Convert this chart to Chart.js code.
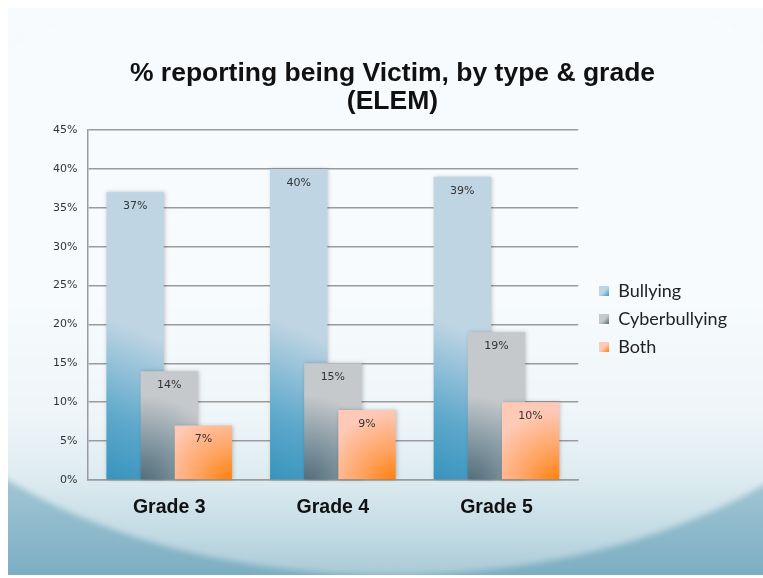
<!DOCTYPE html>
<html>
<head>
<meta charset="utf-8">
<title>% reporting being Victim (ELEM)</title>
<script src="https://cdn.jsdelivr.net/npm/chart.js"></script>
<style>
  html, body { margin: 0; padding: 0; background: #fff; }
</style>
</head>
<body>
<canvas id="victimChart" width="763" height="578"></canvas>
<script>
// values
const grades = ['Grade 3', 'Grade 4', 'Grade 5'];
const bullying = [37, 40, 39];
const cyberbullying = [14, 15, 19];
const both = [7, 9, 10];
const seriesNames = ['Bullying', 'Cyberbullying', 'Both'];
const yMax = 45;
const yStep = 5;

// slide background with the soft wave at the bottom
const slideBg = {
    id: 'slideBg',
    beforeDraw(chart) {
        const ctx = chart.ctx, W = chart.width, H = chart.height;
        const top = 8, left = 8, bottom = 575;
        ctx.save();
        ctx.fillStyle = '#ffffff';
        ctx.fillRect(0, 0, W, H);
        ctx.beginPath();
        ctx.rect(left, top, W - left, bottom - top);
        ctx.clip();
        let g = ctx.createLinearGradient(0, top, 0, bottom);
        g.addColorStop(0, '#f8fbfd');
        g.addColorStop(0.65, '#e6f0f4');
        g.addColorStop(0.85, '#9dc3d2');
        g.addColorStop(1, '#7caec2');
        ctx.fillStyle = g;
        ctx.fillRect(left, top, W - left, bottom - top);
        // light ellipse
        g = ctx.createLinearGradient(0, 300, 0, 578);
        g.addColorStop(0, '#f7fbfd');
        g.addColorStop(0.43, '#eef5f8');
        g.addColorStop(0.65, '#dcebf0');
        g.addColorStop(0.86, '#c0d9e2');
        g.addColorStop(1, '#a7c8d5');
        ctx.fillStyle = g;
        ctx.filter = 'blur(3px)';
        ctx.beginPath();
        ctx.ellipse(390, 265, 530, 310, 0, 0, Math.PI * 2);
        ctx.fill();
        ctx.restore();
    }
};

// the shifted boxes: title centred like the slide, legend a bit off the plot
const nudge = {
    id: 'nudge',
    afterLayout(chart) {
        if (chart.titleBlock) { chart.titleBlock.left += 8; chart.titleBlock.right += 8; }
        if (chart.legend) { chart.legend.left += 11; chart.legend.right += 11; }
    }
};

// gradient fills, drawing order (first series at the back) and value labels
const barPaint = {
    id: 'barPaint',
    beforeDatasetsDraw(chart) {
        const ctx = chart.ctx;
        const bottom = chart.chartArea.bottom;
        const metas = chart.data.datasets.map((ds, di) => chart.getDatasetMeta(di));
        metas.forEach((meta, di) => {
            meta.data.forEach(bar => {
                const l = bar.x - bar.width / 2, r = bar.x + bar.width / 2;
                let g;
                if (di === 0) {
                    g = ctx.createLinearGradient(r, bottom - 140, l, bottom);
                    g.addColorStop(0, '#c0d5e3');
                    g.addColorStop(0.6, '#5ea8cb');
                    g.addColorStop(1, '#3794bd');
                } else if (di === 1) {
                    g = ctx.createRadialGradient(l, bottom + 5, 0, l, bottom + 5, 90);
                    g.addColorStop(0, '#4d6875');
                    g.addColorStop(0.45, '#7f949e');
                    g.addColorStop(1, '#c6c9cc');
                } else {
                    g = ctx.createRadialGradient(r, bottom + 5, 0, r, bottom + 5, 75);
                    g.addColorStop(0, '#ff7b00');
                    g.addColorStop(0.45, '#ffa25e');
                    g.addColorStop(1, '#ffc9b7');
                }
                bar.options = Object.assign({}, bar.options, { backgroundColor: g });
            });
        });
        metas.forEach(meta => {
            ctx.save();
            ctx.shadowColor = 'rgba(0,0,0,0.22)';
            ctx.shadowBlur = 4;
            ctx.shadowOffsetX = 1;
            meta.controller.draw();
            ctx.restore();
        });
        ctx.save();
        ctx.font = '11px "DejaVu Sans"';
        ctx.fillStyle = '#333';
        ctx.textAlign = 'center';
        ctx.textBaseline = 'middle';
        metas.forEach((meta, di) => {
            meta.data.forEach((bar, i) => {
                ctx.fillText(chart.data.datasets[di].data[i] + '%', bar.x, bar.y + 14);
            });
        });
        ctx.restore();
        return false;
    }
};

function legendIcon(c1, c2) {
    const c = document.createElement('canvas');
    c.width = 10; c.height = 10;
    const x = c.getContext('2d');
    const g = x.createLinearGradient(0, 0, 10, 10);
    g.addColorStop(0, c1);
    g.addColorStop(0.5, c1);
    g.addColorStop(1, c2);
    x.fillStyle = g;
    x.fillRect(0, 0, 10, 10);
    return c;
}
const icons = [
    legendIcon('#c0d5e3', '#3794bd'),
    legendIcon('#c6c9cc', '#4d6875'),
    legendIcon('#ffc9b7', '#ff7b00')
];

const barOpts = { barPercentage: 1.68, categoryPercentage: 0.626, borderWidth: 0 };

new Chart(document.getElementById('victimChart'), {
    type: 'bar',
    data: {
        labels: grades,
        datasets: [
            Object.assign({ label: seriesNames[0], data: bullying, backgroundColor: '#c0d5e3' }, barOpts),
            Object.assign({ label: seriesNames[1], data: cyberbullying, backgroundColor: '#c6c9cc' }, barOpts),
            Object.assign({ label: seriesNames[2], data: both, backgroundColor: '#ffc9b7' }, barOpts)
        ]
    },
    options: {
        responsive: false,
        animation: false,
        layout: { padding: { top: 60, left: 43, right: 37, bottom: 0 } },
        plugins: {
            title: {
                display: true,
                text: ['% reporting being Victim, by type & grade', '(ELEM)'],
                color: '#111',
                font: { family: '"Liberation Sans", Arial, sans-serif', size: 26.5, weight: 'bold', lineHeight: 1.04 },
                padding: { top: 0, bottom: 15 }
            },
            legend: {
                position: 'right',
                labels: {
                    usePointStyle: true,
                    boxWidth: 10,
                    boxHeight: 10,
                    padding: 10,
                    color: '#222',
                    font: { family: 'Lato, sans-serif', size: 18 },
                    generateLabels: (chart) => chart.data.datasets.map((ds, i) => ({
                        text: ds.label,
                        pointStyle: icons[i],
                        datasetIndex: i,
                        hidden: false,
                        lineWidth: 0,
                        strokeStyle: 'transparent',
                        fontColor: '#222'
                    }))
                }
            },
            tooltip: { enabled: false }
        },
        scales: {
            x: {
                grid: { display: false },
                border: { display: true, color: '#9b9b9b', width: 1.5 },
                ticks: {
                    color: '#111',
                    padding: 8,
                    font: { family: '"Liberation Sans", Arial, sans-serif', size: 19.5, weight: 'bold' }
                },
                afterFit: (s) => { s.height = 98; }
            },
            y: {
                min: 0,
                max: yMax,
                grid: { color: '#9b9b9b', lineWidth: 1.5, drawTicks: false },
                border: { display: true, color: '#9b9b9b', width: 1.5 },
                ticks: {
                    stepSize: yStep,
                    padding: 10,
                    color: '#333',
                    font: { family: '"DejaVu Sans", sans-serif', size: 11 },
                    callback: (v) => v + '%'
                }
            }
        }
    },
    plugins: [slideBg, nudge, barPaint]
});
</script>
</body>
</html>
